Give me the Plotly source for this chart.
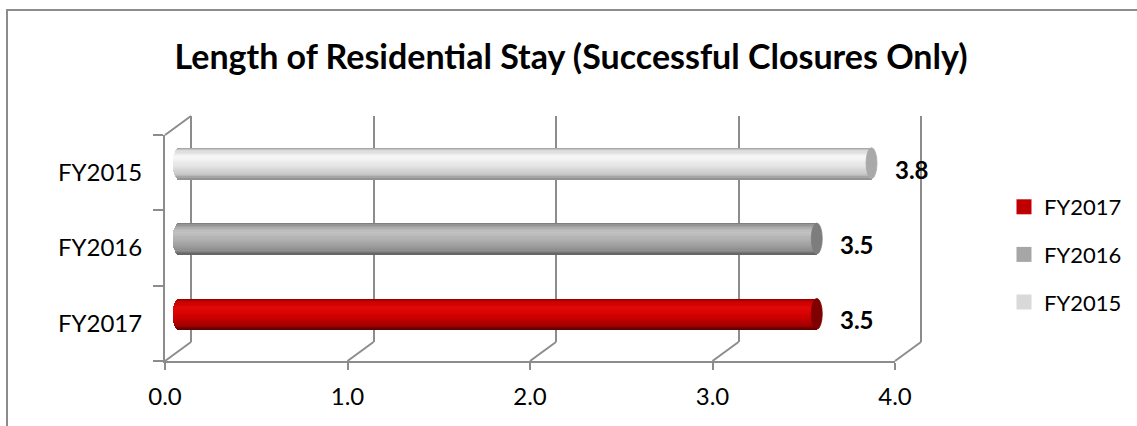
import math
import plotly.graph_objects as go

# ---- data -------------------------------------------------------------
categories = ["FY2017", "FY2016", "FY2015"]          # bottom -> top
values = [3.5, 3.5, 3.8]
tick_values = [0, 1, 2, 3, 4]
tick_labels = ["0.0", "1.0", "2.0", "3.0", "4.0"]
legend_names = ["FY2017", "FY2016", "FY2015"]
title_text = "Length of Residential Stay (Successful Closures Only)"

# ---- styling ----------------------------------------------------------
W, H = 1137, 426
FONT = "Lato"
LINE = "#8c8c8c"
legend_colors = {"FY2017": "#c00000", "FY2016": "#a6a6a6", "FY2015": "#d9d9d9"}

# cylinder shading: (position top->bottom, colour) stops per category
shading = {
    "FY2015": [(0.0, "#9a9a9a"), (0.08, "#d6d6d6"), (0.28, "#f8f8f8"),
               (0.6, "#e3e3e3"), (0.88, "#c4c4c4"), (1.0, "#8a8a8a")],
    "FY2016": [(0.0, "#747474"), (0.08, "#a0a0a0"), (0.28, "#c3c3c3"),
               (0.6, "#ababab"), (0.88, "#8e8e8e"), (1.0, "#5e5e5e")],
    "FY2017": [(0.0, "#8a0000"), (0.08, "#c20000"), (0.3, "#e40808"),
               (0.6, "#cc0000"), (0.88, "#a00000"), (1.0, "#580000")],
}
cap_colors = {"FY2015": "#a9a9a9", "FY2016": "#7d7d7d", "FY2017": "#7e0000"}

# 3-D frame geometry (pixels)
FRONT_X0, FRONT_X1 = 165, 895
FLOOR_Y, TOP_Y = 361, 135
DEPTH_X, DEPTH_Y = 26, -19
BAR_THICK = 0.41          # in category units
CAP_HALF = 5.5            # px, half width of the end ellipse
N_STRIPES = 26
PAD = 0.1                 # extra data range around the cylinder plane
EPS = 0.03                # keeps the outer gridlines inside the range


def px(x):
    return x / W


def py(y):
    return 1 - y / H


def hex_rgb(c):
    c = c.lstrip("#")
    return tuple(int(c[i:i + 2], 16) for i in (0, 2, 4))


def shade_at(stops, t):
    for (t0, c0), (t1, c1) in zip(stops, stops[1:]):
        if t0 <= t <= t1:
            f = (t - t0) / (t1 - t0) if t1 > t0 else 0
            a, b = hex_rgb(c0), hex_rgb(c1)
            r = [round(a[i] + (b[i] - a[i]) * f) for i in range(3)]
            return "rgb({},{},{})".format(*r)
    return stops[-1][1]


fig = go.Figure()

# empty traces so the back wall and the front axes get drawn
for xa, ya in (("x", "y"), ("x2", "y2")):
    fig.add_trace(go.Scatter(x=[None], y=[None], xaxis=xa, yaxis=ya,
                             showlegend=False, hoverinfo="skip"))

# cylinders: each bar is built from thin horizontal stripes
unit_px = (FRONT_X1 - FRONT_X0) / 4.0
stripe_w = BAR_THICK / N_STRIPES
for k in range(N_STRIPES):
    t = (k + 0.5) / N_STRIPES                   # 0 = top edge, 1 = bottom edge
    s = 2 * t - 1
    base = -CAP_HALF * math.sqrt(max(0.0, 1 - s * s)) / unit_px
    fig.add_trace(go.Bar(
        y=categories,
        x=[v - base for v in values],
        base=base,
        orientation="h",
        width=stripe_w * 1.08,
        offset=BAR_THICK / 2 - (k + 1) * stripe_w,
        marker=dict(color=[shade_at(shading[c], t) for c in categories],
                    line=dict(width=0)),
        xaxis="x3", yaxis="y3",
        showlegend=False, hoverinfo="skip",
    ))

# legend entries
for name in legend_names:
    fig.add_trace(go.Scatter(
        x=[None], y=[None], mode="markers", name=name, legendgroup=name,
        marker=dict(symbol="square", size=15, color=legend_colors[name]),
        xaxis="x3", yaxis="y3",
    ))

shapes = []
# end faces of the cylinders
for i, (c, v) in enumerate(zip(categories, values)):
    shapes.append(dict(
        type="circle", xref="x3", yref="y3", xsizemode="pixel", xanchor=v,
        x0=-CAP_HALF, x1=CAP_HALF, y0=i - BAR_THICK / 2, y1=i + BAR_THICK / 2,
        fillcolor=cap_colors[c], line=dict(width=0.8, color=cap_colors[c]),
    ))

# floor diagonals and the top edge of the side wall
for tv in tick_values:
    fx = FRONT_X0 + tv * unit_px
    shapes.append(dict(type="line", xref="paper", yref="paper",
                       x0=px(fx), y0=py(FLOOR_Y),
                       x1=px(fx + DEPTH_X), y1=py(FLOOR_Y + DEPTH_Y),
                       line=dict(color=LINE, width=2)))
shapes.append(dict(type="line", xref="paper", yref="paper",
                   x0=px(FRONT_X0), y0=py(TOP_Y),
                   x1=px(FRONT_X0 + DEPTH_X), y1=py(TOP_Y + DEPTH_Y),
                   line=dict(color=LINE, width=2)))
# chart area border
shapes.append(dict(type="rect", xref="paper", yref="paper",
                   x0=px(7), y0=py(10), x1=px(W + 20), y1=py(H + 20),
                   line=dict(color=LINE, width=2), fillcolor="rgba(0,0,0,0)"))

# value labels
annotations = []
for i, v in enumerate(values):
    annotations.append(dict(
        xref="x3", yref="y3", x=v, y=i, text=f"{v:.1f}", showarrow=False,
        xanchor="left", yanchor="middle", xshift=21, yshift=-6,
        font=dict(family=FONT, size=24, color="#000000", weight="bold"),
    ))

xtickfont = dict(family=FONT, size=24, color="#000000")
ytickfont = dict(family=FONT, size=24, color="#000000")
mid_x0 = FRONT_X0 + DEPTH_X / 2
back_x0 = FRONT_X0 + DEPTH_X

fig.update_layout(
    width=W, height=H,
    margin=dict(l=0, r=0, t=0, b=0, pad=0, autoexpand=False),
    paper_bgcolor="white", plot_bgcolor="rgba(0,0,0,0)",
    barmode="overlay", bargap=0,
    title=dict(text=title_text, x=px(571), xanchor="center", y=py(57),
               yanchor="middle", xref="paper", yref="paper",
               font=dict(family=FONT, size=34, color="#000000", weight="bold")),
    # back wall with gridlines
    xaxis=dict(domain=[px(back_x0 - EPS * unit_px),
                       px(back_x0 + (4 + EPS) * unit_px)],
               range=[-EPS, 4 + EPS], anchor="y", tickvals=tick_values,
               showticklabels=False, ticks="", showgrid=True,
               gridcolor=LINE, gridwidth=2, zeroline=True,
               zerolinecolor=LINE, zerolinewidth=2, showline=False,
               automargin=False),
    yaxis=dict(domain=[py(FLOOR_Y + DEPTH_Y), py(TOP_Y + DEPTH_Y)],
               range=[0, 1], anchor="x", showgrid=False, zeroline=False,
               showticklabels=False, ticks="", showline=False,
               automargin=False),
    # front axes
    xaxis2=dict(domain=[px(FRONT_X0), px(FRONT_X1)], range=[0, 4],
                anchor="y2", tickvals=tick_values, ticktext=tick_labels,
                ticks="outside", ticklen=7, tickwidth=2, tickcolor=LINE,
                showline=True, linecolor=LINE, linewidth=2,
                showgrid=False, zeroline=False, tickfont=xtickfont,
                ticklabelstandoff=6, automargin=False),
    yaxis2=dict(domain=[py(FLOOR_Y), py(TOP_Y)], type="category",
                categoryorder="array", categoryarray=categories,
                range=[-0.5, 2.5], anchor="x2", tickson="boundaries",
                ticks="outside", ticklen=10, tickwidth=2, tickcolor=LINE,
                showline=True, linecolor=LINE, linewidth=2,
                showgrid=False, zeroline=False, tickfont=ytickfont,
                ticklabelstandoff=16, automargin=False),
    # plane through the middle of the depth, carrying the cylinders
    xaxis3=dict(domain=[px(mid_x0 - PAD * unit_px),
                        px(mid_x0 + (4 + PAD) * unit_px)],
                range=[-PAD, 4 + PAD], anchor="y3", visible=False,
                automargin=False),
    yaxis3=dict(domain=[py(FLOOR_Y + DEPTH_Y / 2), py(TOP_Y + DEPTH_Y / 2)],
                type="category", categoryorder="array",
                categoryarray=categories, range=[-0.5, 2.5], anchor="x3",
                visible=False, automargin=False),
    legend=dict(x=px(1004), y=py(186), xanchor="left", yanchor="top",
                font=dict(family=FONT, size=22, color="#000000"),
                bgcolor="rgba(0,0,0,0)", tracegroupgap=16,
                traceorder="grouped"),
    shapes=shapes,
    annotations=annotations,
)

fig.write_html("out.html")
